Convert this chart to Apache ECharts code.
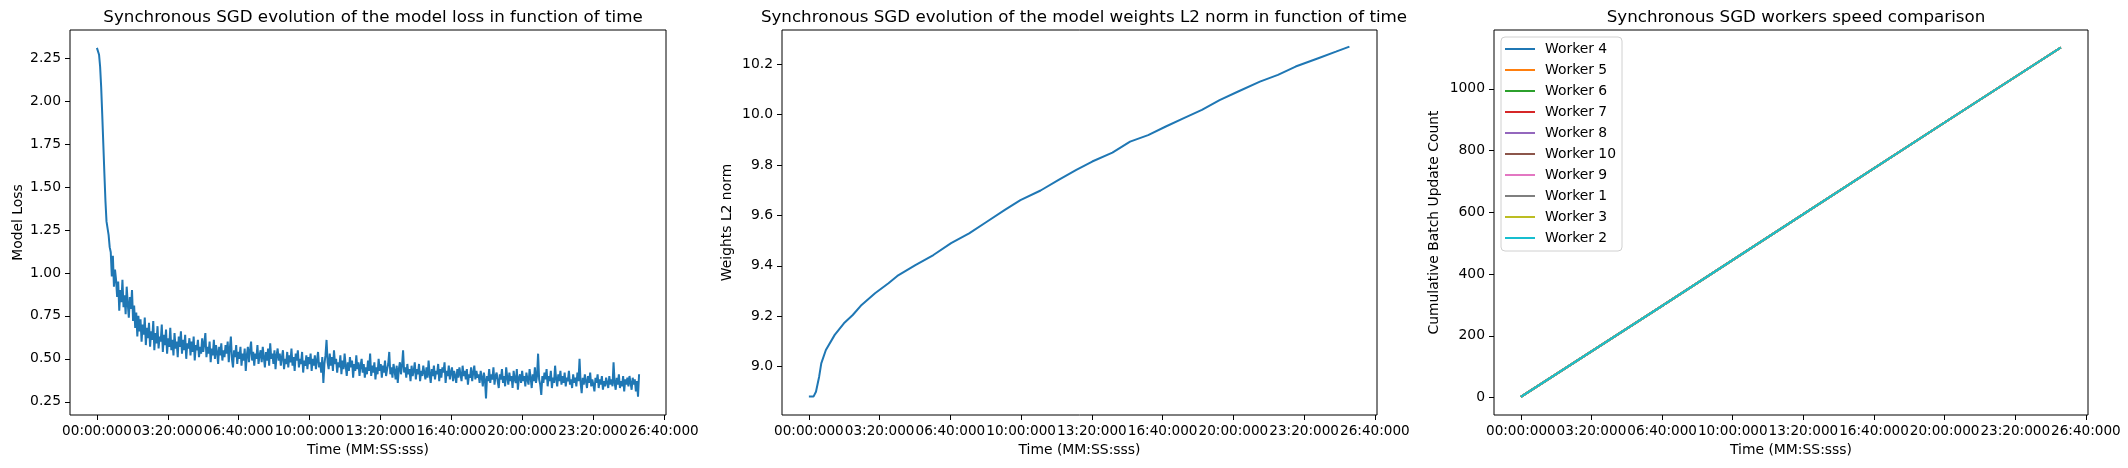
<!DOCTYPE html>
<html>
<head>
<meta charset="utf-8">
<script src="https://cdn.jsdelivr.net/npm/echarts@6/dist/echarts.min.js"></script>
<style>
  html, body { margin: 0; padding: 0; background: #fff; }
  #chart { width: 2128px; height: 468px; }
</style>
</head>
<body>
<div id="chart"></div>
<script>
// loss sampled every LOSS_STEP seconds (one row = 60 s)
const LOSS_STEP = 3;
const lossValues = [
  2.31, 2.30, 2.27, 2.20, 2.08, 1.92, 1.75, 1.58, 1.42, 1.30, 1.29, 1.22, 1.15, 1.12, 0.98, 1.10, 0.92, 1.02, 0.96, 0.86,
  0.95, 0.78, 0.90, 0.83, 0.96, 0.80, 0.87, 0.76, 0.92, 0.82, 0.74, 0.86, 0.79, 0.90, 0.72, 0.81, 0.68, 0.77, 0.63, 0.75,
  0.66, 0.73, 0.60, 0.70, 0.64, 0.74, 0.58, 0.68, 0.62, 0.71, 0.57, 0.66, 0.61, 0.72, 0.55, 0.65, 0.59, 0.69, 0.56, 0.63,
  0.60, 0.70, 0.54, 0.64, 0.58, 0.67, 0.53, 0.62, 0.57, 0.68, 0.55, 0.61, 0.52, 0.65, 0.56, 0.60, 0.51, 0.63, 0.57, 0.66,
  0.53, 0.61, 0.55, 0.64, 0.50, 0.59, 0.56, 0.62, 0.52, 0.60, 0.54, 0.63, 0.49, 0.58, 0.55, 0.61, 0.51, 0.57, 0.53, 0.62,
  0.54, 0.59, 0.65, 0.51, 0.57, 0.53, 0.60, 0.48, 0.56, 0.52, 0.61, 0.50, 0.58, 0.54, 0.47, 0.57, 0.52, 0.59, 0.49, 0.55,
  0.51, 0.58, 0.53, 0.60, 0.48, 0.56, 0.63, 0.50, 0.45, 0.55, 0.51, 0.58, 0.47, 0.54, 0.50, 0.57, 0.46, 0.53, 0.49, 0.56,
  0.43, 0.52, 0.57, 0.48, 0.55, 0.60, 0.49, 0.54, 0.46, 0.53, 0.50, 0.58, 0.47, 0.52, 0.55, 0.48, 0.57, 0.51, 0.45, 0.54,
  0.49, 0.56, 0.46, 0.59, 0.50, 0.53, 0.47, 0.55, 0.44, 0.52, 0.56, 0.49, 0.53, 0.46, 0.51, 0.55, 0.44, 0.50, 0.47, 0.54,
  0.45, 0.52, 0.48, 0.56, 0.46, 0.51, 0.43, 0.53, 0.49, 0.55, 0.45, 0.50, 0.47, 0.54, 0.42, 0.49, 0.46, 0.52, 0.44, 0.51,
  0.47, 0.53, 0.43, 0.50, 0.46, 0.52, 0.44, 0.49, 0.54, 0.45, 0.48, 0.42, 0.51, 0.36, 0.47, 0.52, 0.61, 0.48, 0.44, 0.53,
  0.46, 0.51, 0.43, 0.55, 0.47, 0.50, 0.42, 0.48, 0.45, 0.52, 0.41, 0.49, 0.44, 0.53, 0.46, 0.40, 0.48, 0.43, 0.51, 0.45,
  0.49, 0.39, 0.47, 0.43, 0.52, 0.44, 0.48, 0.40, 0.46, 0.50, 0.42, 0.47, 0.39, 0.45, 0.41, 0.49, 0.43, 0.53, 0.40, 0.46,
  0.42, 0.48, 0.38, 0.45, 0.41, 0.50, 0.43, 0.47, 0.39, 0.46, 0.42, 0.49, 0.40, 0.44, 0.47, 0.54, 0.41, 0.45, 0.39, 0.47,
  0.43, 0.38, 0.46, 0.36, 0.44, 0.48, 0.41, 0.46, 0.55, 0.42, 0.45, 0.39, 0.47, 0.41, 0.44, 0.37, 0.46, 0.40, 0.43, 0.48,
  0.38, 0.44, 0.41, 0.47, 0.37, 0.43, 0.40, 0.46, 0.42, 0.38, 0.45, 0.39, 0.49, 0.41, 0.36, 0.44, 0.40, 0.46, 0.38, 0.43,
  0.41, 0.47, 0.37, 0.44, 0.39, 0.45, 0.42, 0.48, 0.36, 0.43, 0.40, 0.46, 0.38, 0.42, 0.45, 0.37, 0.43, 0.40, 0.36, 0.44,
  0.39, 0.45, 0.41, 0.37, 0.46, 0.40, 0.43, 0.38, 0.44, 0.35, 0.41, 0.39, 0.45, 0.37, 0.42, 0.46, 0.38, 0.43, 0.39, 0.41,
  0.36, 0.43, 0.39, 0.34, 0.42, 0.38, 0.27, 0.40, 0.37, 0.44, 0.36, 0.41, 0.38, 0.45, 0.35, 0.40, 0.42, 0.37, 0.33, 0.41,
  0.38, 0.44, 0.36, 0.40, 0.34, 0.45, 0.39, 0.35, 0.42, 0.37, 0.40, 0.33, 0.43, 0.38, 0.36, 0.44, 0.32, 0.39, 0.41, 0.36,
  0.43, 0.37, 0.40, 0.34, 0.42, 0.38, 0.35, 0.44, 0.39, 0.33, 0.41, 0.37, 0.45, 0.36, 0.40, 0.53, 0.38, 0.35, 0.29, 0.40,
  0.36, 0.42, 0.38, 0.44, 0.34, 0.40, 0.37, 0.43, 0.33, 0.39, 0.36, 0.46, 0.38, 0.34, 0.41, 0.37, 0.43, 0.35, 0.40, 0.36,
  0.42, 0.34, 0.39, 0.37, 0.43, 0.35, 0.38, 0.33, 0.41, 0.36, 0.39, 0.34, 0.42, 0.37, 0.50, 0.36, 0.30, 0.39, 0.35, 0.41,
  0.37, 0.33, 0.40, 0.36, 0.42, 0.34, 0.38, 0.35, 0.31, 0.39, 0.36, 0.41, 0.33, 0.38, 0.35, 0.40, 0.32, 0.37, 0.34, 0.39,
  0.36, 0.33, 0.40, 0.35, 0.38, 0.34, 0.48, 0.36, 0.32, 0.39, 0.35, 0.41, 0.33, 0.37, 0.34, 0.40, 0.31, 0.38, 0.35, 0.39,
  0.34, 0.40, 0.36, 0.32, 0.39, 0.35, 0.38, 0.31, 0.37, 0.28, 0.41
];

// weights L2 norm
const l2Times = [0, 13, 20, 29, 35, 48, 73, 99, 124, 149, 187, 225, 250, 301, 352,
  402, 453, 503, 554, 598, 655, 706, 756, 801, 858, 908, 959, 1009, 1060, 1111,
  1161, 1212, 1275, 1326, 1376, 1440, 1490, 1528];
const l2Values = [8.881, 8.881, 8.900, 8.960, 9.013, 9.066, 9.126, 9.172, 9.205, 9.245,
  9.291, 9.331, 9.360, 9.403, 9.443, 9.490, 9.529, 9.575, 9.622, 9.661,
  9.699, 9.741, 9.781, 9.814, 9.849, 9.893, 9.919, 9.953, 9.986, 10.019,
  10.058, 10.091, 10.131, 10.158, 10.191, 10.224, 10.250, 10.270];

// cumulative batch updates, all workers on the same line
const workerNames = ['Worker 4', 'Worker 5', 'Worker 6', 'Worker 7', 'Worker 8',
  'Worker 10', 'Worker 9', 'Worker 1', 'Worker 3', 'Worker 2'];
const workerTimes = [0, 400, 800, 1200, 1529];
const workerCounts = [2, 297, 594, 891, 1134];

const timeTicks = [0, 200, 400, 600, 800, 1000, 1200, 1400, 1600];
const lossTicks = [0.25, 0.5, 0.75, 1.0, 1.25, 1.5, 1.75, 2.0, 2.25];
const l2Ticks = [9.0, 9.2, 9.4, 9.6, 9.8, 10.0, 10.2];
const countTicks = [0, 200, 400, 600, 800, 1000];

const COLORS = ['#1f77b4', '#ff7f0e', '#2ca02c', '#d62728', '#9467bd',
  '#8c564b', '#e377c2', '#7f7f7f', '#bcbd22', '#17becf'];
const FONT = 'DejaVu Sans';

const pad = (n, w) => String(n).padStart(w, '0');
const fmtTime = (v) => pad(Math.floor(v / 60), 2) + ':' + pad(Math.round(v % 60), 2) + ':000';

const grids = [
  {left: 70, top: 30, width: 596, height: 385},
  {left: 782, top: 30, width: 595, height: 385},
  {left: 1494, top: 30, width: 594, height: 385}
];

function xAxis(gridIndex) {
  return {
    type: 'value', gridIndex, min: -76, max: 1606,
    name: 'Time (MM:SS:sss)', nameLocation: 'middle', nameGap: 28,
    nameTextStyle: {fontFamily: FONT, fontSize: 13.9, color: '#000'},
    axisLine: {show: false, onZero: false},
    axisTick: {show: true, length: 5, customValues: timeTicks, lineStyle: {color: '#000', width: 1}},
    // slightly under 10pt so neighbouring labels just touch instead of overlapping
    axisLabel: {customValues: timeTicks, margin: 9, fontFamily: FONT, fontSize: 13.6, color: '#000',
      showMinLabel: true, showMaxLabel: true, hideOverlap: false, formatter: fmtTime},
    splitLine: {show: false}
  };
}

function yAxis(gridIndex, min, max, ticks, name, nameGap, fmt) {
  return {
    type: 'value', gridIndex, min, max,
    name, nameLocation: 'middle', nameGap,
    nameTextStyle: {fontFamily: FONT, fontSize: 13.9, color: '#000'},
    axisLine: {show: false, onZero: false},
    axisTick: {show: true, length: 5, customValues: ticks, lineStyle: {color: '#000', width: 1}},
    axisLabel: {customValues: ticks, margin: 9, fontFamily: FONT, fontSize: 13.9, color: '#000',
      showMinLabel: true, showMaxLabel: true, formatter: fmt},
    splitLine: {show: false}
  };
}

const lineBase = {type: 'line', showSymbol: false, symbol: 'none', animation: false,
  lineStyle: {width: 2}};

const series = [
  Object.assign({}, lineBase, {
    name: 'loss', xAxisIndex: 0, yAxisIndex: 0, color: COLORS[0],
    data: lossValues.map((v, i) => [i * LOSS_STEP, v])
  }),
  Object.assign({}, lineBase, {
    name: 'l2', xAxisIndex: 1, yAxisIndex: 1, color: COLORS[0],
    data: l2Times.map((t, i) => [t, l2Values[i]])
  })
];
workerNames.forEach((name, k) => {
  series.push(Object.assign({}, lineBase, {
    name, xAxisIndex: 2, yAxisIndex: 2, color: COLORS[k],
    data: workerTimes.map((t, i) => [t, workerCounts[i]])
  }));
});

const titleStyle = {fontFamily: FONT, fontSize: 16.7, fontWeight: 'normal', color: '#000'};

const chart = echarts.init(document.getElementById('chart'), null, {renderer: 'canvas'});
chart.setOption({
  backgroundColor: '#fff',
  animation: false,
  title: [
    {text: 'Synchronous SGD evolution of the model loss in function of time', left: 368, top: 4, textAlign: 'center', textStyle: titleStyle},
    {text: 'Synchronous SGD evolution of the model weights L2 norm in function of time', left: 1079, top: 4, textAlign: 'center', textStyle: titleStyle},
    {text: 'Synchronous SGD workers speed comparison', left: 1791, top: 4, textAlign: 'center', textStyle: titleStyle}
  ],
  grid: grids.map((g) => Object.assign({show: true, borderColor: '#000', borderWidth: 1, backgroundColor: 'transparent'}, g)),
  xAxis: [xAxis(0), xAxis(1), xAxis(2)],
  yAxis: [
    yAxis(0, 0.173, 2.414, lossTicks, 'Model Loss', 45, (v) => v.toFixed(2)),
    yAxis(1, 8.808, 10.336, l2Ticks, 'Weights L2 norm', 48, (v) => v.toFixed(1)),
    yAxis(2, -56.7, 1190.7, countTicks, 'Cumulative Batch Update Count', 53, (v) => String(v))
  ],
  legend: {
    data: workerNames, orient: 'vertical', left: 1501, top: 37,
    icon: 'rect', itemWidth: 30, itemHeight: 2, itemGap: 7,
    padding: [5, 6, 6, 4],
    borderColor: '#d0d0d0', borderWidth: 1, borderRadius: 4,
    backgroundColor: 'rgba(255,255,255,0.8)',
    selectedMode: false,
    textStyle: {fontFamily: FONT, fontSize: 13.9, color: '#000', padding: [0, 0, 0, 5]}
  },
  series
});
</script>
</body>
</html>
